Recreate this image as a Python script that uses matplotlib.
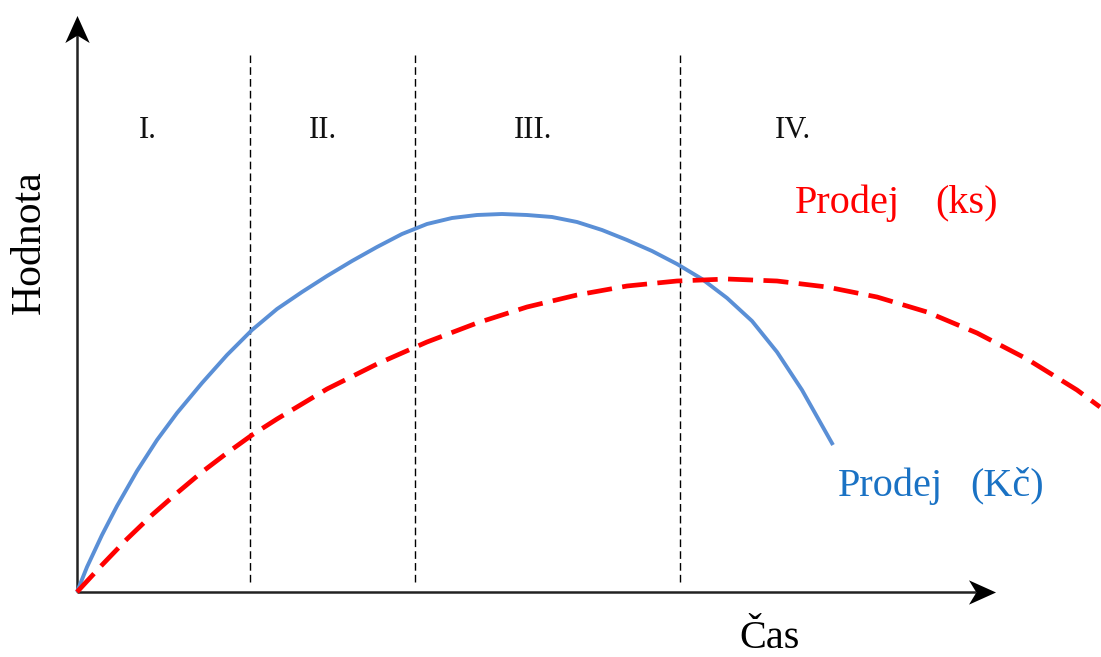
import matplotlib
matplotlib.use("Agg")
import matplotlib.pyplot as plt
from matplotlib.path import Path
from matplotlib.markers import MarkerStyle
from matplotlib.transforms import Affine2D

# Blue curve: Prodej (Kč)
kc_x = [0, 10, 25, 40, 60, 80, 100, 125, 150, 175, 200, 225, 250, 275, 300, 325, 350, 375, 400, 425,
        450, 475, 500, 525, 550, 575, 600, 625, 650, 675, 700, 725, 756]
kc_y = [0, 25, 57, 86, 121, 152, 179, 209, 237, 262, 283, 300, 316, 331, 345, 358, 368, 374, 377, 378,
        377, 375, 370, 362, 352, 341, 328, 313, 294, 271, 240, 202, 147]

# Red dashed curve: Prodej (ks)
ks_x = [0, 25, 50, 75, 100, 125, 150, 175, 200, 250, 300, 350, 400, 450, 500, 550, 600, 650, 700,
        750, 800, 850, 900, 950, 1000, 1023]
ks_y = [0, 27, 53, 77, 99, 120, 139, 157, 173, 203, 228, 250, 269, 285, 297, 306, 311, 313, 311,
        305, 295, 280, 259, 233, 202, 185]

# Phase boundaries and labels
phase_bounds = [173, 338, 603]
phase_labels = ["I.", "II.", "III.", "IV."]
phase_label_x = [71, 246, 456, 716]

fig = plt.figure(figsize=(11.01, 6.57), dpi=100)
ax = fig.add_axes([0, 0, 1, 1])
ax.set_xlim(-77, 1024)
ax.set_ylim(-65, 592)
ax.axis("off")

serif = ["Liberation Serif", "DejaVu Serif"]

# Arrowhead marker (concave back)
head = Path([(1, 0), (-1, 0.9), (-0.45, 0), (-1, -0.9), (1, 0)],
            [Path.MOVETO, Path.LINETO, Path.LINETO, Path.LINETO, Path.CLOSEPOLY])
head_right = MarkerStyle(head)
head_up = MarkerStyle(head, transform=Affine2D().rotate_deg(90))

x_tip, y_tip = 918, 577
hl = 13.5
ax.plot([0, x_tip - 2 * hl + 8], [0, 0], color="#222222", lw=1.8, solid_capstyle="butt")
ax.plot([0, 0], [0, y_tip - 2 * hl + 8], color="#222222", lw=1.8, solid_capstyle="butt")
ax.plot([x_tip - hl], [0], marker=head_right, markersize=19.5, color="black", mew=0)
ax.plot([0], [y_tip - hl], marker=head_up, markersize=19.5, color="black", mew=0)

# Phase boundaries
for b in phase_bounds:
    ax.plot([b, b], [10, 537], color="black", lw=1.0, linestyle=(0, (5.5, 3)))

for lab, lx in zip(phase_labels, phase_label_x):
    ax.text(lx, 462, lab, fontsize=22, family=serif, ha="center", va="center", color="#111111")

# Curves
ax.plot(kc_x, kc_y, color="#5A8FD6", lw=2.8, solid_capstyle="butt", solid_joinstyle="round")
ax.plot(ks_x, ks_y, color="#FF0000", lw=3.4, linestyle=(0, (5.3, 2.2)))

# Labels
ax.text(718, 389, "Prodej", fontsize=29, family=serif, color="#FF0000", ha="left", va="center")
ax.text(858, 389, "(ks)", fontsize=29, family=serif, color="#FF0000", ha="left", va="center")
ax.text(761, 106, "Prodej", fontsize=29, family=serif, color="#1A72C4", ha="left", va="center")
ax.text(893, 106, "(Kč)", fontsize=29, family=serif, color="#1A72C4", ha="left", va="center")

ax.text(-47, 350, "Hodnota", fontsize=30, family=serif, rotation=90, ha="center", va="center")
ax.text(693, -47, "Čas", fontsize=29, family=serif, ha="center", va="center")

fig.savefig("out.png", dpi=100)
